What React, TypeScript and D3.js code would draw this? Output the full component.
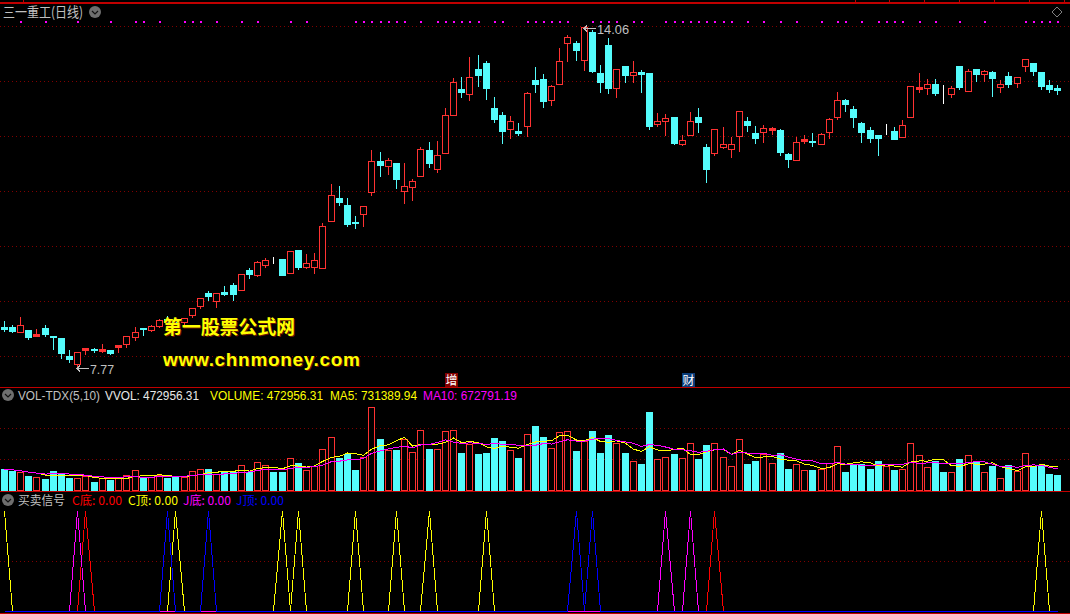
import React from "react";
import * as d3 from "d3";

const WIDTH = 1070;
const HEIGHT = 614;

const opens = [
  8.51,8.51,8.42,8.46,8.35,8.49,8.35,8.30,7.97,7.83,
  8.09,8.11,8.07,8.08,8.13,8.20,8.33,8.48,8.46,8.53,
  8.65,8.62,8.60,8.72,8.89,9.13,8.99,9.15,9.28,9.19,
  9.56,9.47,9.65,9.75,9.76,9.51,9.92,9.61,9.62,9.59,
  10.45,10.88,10.75,10.44,10.58,11.00,11.56,11.48,11.53,11.02,
  11.09,11.28,11.77,11.42,11.72,12.42,12.89,12.79,13.26,13.37,
  12.54,12.41,12.16,12.12,12.21,13.06,13.07,12.68,12.99,13.73,
  13.74,13.43,13.94,13.18,13.70,12.90,13.31,13.15,13.20,13.19,
  12.25,12.31,12.37,11.88,12.04,12.37,11.82,11.72,11.82,11.79,
  12.03,12.30,12.08,12.10,12.14,12.14,11.69,11.59,11.93,11.93,
  11.88,12.09,12.38,12.69,12.52,12.26,12.14,12.04,12.10,12.12,
  12.01,12.38,12.89,12.90,12.98,12.77,12.80,13.31,12.86,13.26,
  13.17,13.20,12.93,13.13,13.01,13.32,13.37,13.20,12.96,12.90,
];
const closes = [
  8.47,8.44,8.54,8.32,8.38,8.38,8.33,8.03,7.92,8.04,
  8.12,8.08,8.10,8.03,8.17,8.35,8.41,8.47,8.52,8.64,
  8.59,8.54,8.68,8.85,9.05,9.07,9.13,9.11,9.11,9.48,
  9.48,9.70,9.75,9.75,9.46,9.90,9.61,9.68,9.75,10.36,
  10.93,10.81,10.40,10.42,10.74,11.56,11.49,11.58,11.23,11.10,
  11.19,11.79,11.53,11.67,12.41,13.02,12.84,13.12,13.15,12.91,
  12.34,12.12,12.31,12.08,12.81,12.98,12.67,12.94,13.40,13.84,
  13.61,14.04,13.22,13.02,12.91,13.25,13.15,13.20,13.17,12.21,
  12.31,12.35,11.90,11.95,12.31,12.28,11.42,12.15,11.87,11.87,
  12.48,12.23,11.99,12.17,12.17,11.73,11.60,11.91,11.97,11.92,
  12.06,12.33,12.68,12.61,12.37,12.10,11.99,11.99,12.10,11.97,
  12.22,12.94,12.92,12.98,12.82,12.77,12.90,12.93,13.22,13.17,
  13.22,13.09,12.98,12.98,13.11,13.44,13.22,12.95,12.89,12.88,
];
const highs = [
  8.64,8.56,8.71,8.46,8.49,8.56,8.35,8.30,8.10,8.04,
  8.12,8.14,8.21,8.10,8.17,8.36,8.53,8.51,8.56,8.67,
  8.73,8.64,8.70,8.87,9.05,9.18,9.13,9.28,9.34,9.48,
  9.62,9.75,9.80,9.81,9.76,9.92,9.92,9.87,9.89,10.44,
  11.16,11.12,10.90,10.57,10.74,11.79,11.75,11.64,11.53,11.55,
  11.25,11.84,11.93,11.95,12.56,13.11,13.13,13.50,13.54,13.42,
  12.76,12.49,12.41,12.28,12.85,13.31,13.19,12.98,13.66,13.90,
  13.79,14.06,13.99,13.35,13.85,13.26,13.31,13.42,13.26,13.19,
  12.47,12.45,12.37,12.06,12.49,12.56,11.90,12.15,12.21,12.02,
  12.48,12.39,12.23,12.25,12.21,12.17,11.73,12.02,12.06,12.10,
  12.10,12.37,12.85,12.73,12.60,12.30,12.21,12.06,12.26,12.21,
  12.34,12.94,13.20,13.09,13.09,12.98,12.96,13.33,13.28,13.28,
  13.26,13.24,13.07,13.22,13.13,13.44,13.39,13.20,13.07,12.98,
];
const lows = [
  8.44,8.41,8.41,8.29,8.34,8.34,8.10,7.94,7.86,7.77,
  8.01,8.05,8.05,8.01,8.05,8.14,8.27,8.36,8.43,8.51,
  8.54,8.53,8.57,8.69,8.86,9.00,8.87,9.10,9.00,9.19,
  9.41,9.45,9.62,9.68,9.46,9.50,9.58,9.60,9.50,9.59,
  10.45,10.75,10.37,10.33,10.37,10.94,11.29,11.32,11.07,10.79,
  10.85,11.28,11.45,11.36,11.72,12.41,12.74,12.69,12.95,12.71,
  12.28,11.90,11.99,12.04,12.02,12.84,12.56,12.60,12.99,13.41,
  13.42,13.24,13.20,12.84,12.82,12.74,13.02,13.02,12.84,12.15,
  12.21,12.04,11.88,11.86,12.04,12.10,11.18,11.67,11.80,11.64,
  11.75,12.12,11.90,11.91,12.06,11.67,11.45,11.58,11.90,11.84,
  11.88,11.99,12.34,12.49,12.19,11.91,11.91,11.67,12.06,11.97,
  12.01,12.38,12.84,12.80,12.78,12.63,12.74,12.89,12.86,13.04,
  13.04,12.76,12.84,12.93,12.93,13.22,13.15,12.89,12.84,12.80,
];
// volume, in units of ten thousand
const volumes = [
  66.2,60.9,55.7,44.1,39.9,34.7,59.9,52.5,38.9,36.8,
  44.1,25.2,36.8,31.5,41.0,46.2,62.0,42.0,39.9,48.3,
  38.9,42.0,39.9,58.8,65.1,66.2,49.4,57.8,57.8,77.7,
  55.7,87.2,77.7,57.8,57.8,99.8,85.1,62.0,74.6,128.1,
  165.9,100.8,114.5,63.0,102.9,260.4,160.7,125.0,126.0,160.7,
  118.7,188.0,129.2,128.1,185.9,188.0,116.6,144.9,113.4,116.6,
  163.8,154.4,125.0,100.8,175.4,201.6,167.0,131.3,181.7,184.8,
  122.9,154.4,185.9,116.6,173.3,147.0,116.6,90.3,81.9,245.7,
  96.6,102.9,113.4,99.8,147.0,97.7,141.8,147.0,102.9,74.6,
  159.6,81.9,91.4,113.4,84.0,115.5,66.2,80.9,62.0,63.0,
  65.1,84.0,137.6,56.7,83.0,83.0,66.2,91.4,74.6,63.0,
  65.1,147.0,109.2,71.4,91.4,56.7,55.7,97.7,109.2,90.3,
  55.7,75.6,36.8,78.8,58.8,115.5,74.6,77.7,50.4,47.3,
];
const dojiUpVolume = [108];
const topMarkerBars = [
  2,5,9,13,16,17,19,22,23,24,26,29,31,35,37,43,44,45,46,47,48,49,51,53,54,55,56,57,58,60,61,
  64,65,66,67,68,69,72,73,74,75,77,78,81,82,83,84,85,86,87,88,89,91,93,95,97,100,102,103,105,
  107,108,109,110,112,114,117,120,125,126,127,128,129,
];
const cBottomPeaks = [10, 87];
const cTopPeaks = [0, 21, 34, 36, 43, 48, 52, 59, 127];
const jBottomPeaks = [9, 81, 84];
const jTopPeaks = [20, 25, 70, 72];
const priceGrid = [14.05, 13.04, 12.02, 11.01, 10.0, 8.99, 7.97];
const volumeGrid = [97.7, 195.5];
const signalGrid = [50];
const topTicks = [23, 855, 889, 924, 959, 994, 1029, 1064];

const RED = "#ff3232";
const CYAN = "#54fcfc";
const FRAME = "#c00000";
const GRID = "#800000";
const GREY = "#c0c0c0";
const LATIN = "'Liberation Sans', Arial, sans-serif";
const CJK = "'Noto Sans CJK SC', sans-serif";

const n = opens.length;
const xPos = d3.scaleLinear().domain([0, n - 1]).range([4.33, 4.33 + 8.167 * (n - 1)]);
const px = (i: number) => Math.floor(xPos(i)) + 0.5;
const yPrice = d3.scaleLinear().domain([14.06, 7.77]).range([25.5, 367]);
const yVol = d3.scaleLinear().domain([0, 100]).range([490, 458.3]);
const ySig = d3.scaleLinear().domain([0, 100]).range([611, 511]);
const snap = (v: number) => Math.round(v) + 0.5;

const rollingMean = (values: number[], window: number) =>
  values.map((_, i) => d3.mean(values.slice(Math.max(0, i - window + 1), i + 1)) as number);
const ma5 = rollingMean(volumes, 5);
const ma10 = rollingMean(volumes, 10);
const volLine = d3.line<number>().x((_, i) => px(i)).y((d) => yVol(d));
const sigLine = d3.line<number>().x((_, i) => px(i)).y((d) => ySig(d));
const signalSeries = (peaks: number[]) => d3.range(n).map((i) => (peaks.includes(i) ? 100 : 0));

const isUp = (i: number) => closes[i] > opens[i];
const isDoji = (i: number) => closes[i] === opens[i];
const volUp = (i: number) => isUp(i) || dojiUpVolume.includes(i);

function Candle({ i }: { i: number }) {
  const x = px(i);
  const color = isDoji(i) ? "#ffffff" : isUp(i) ? RED : CYAN;
  const top = snap(yPrice(Math.max(opens[i], closes[i])));
  const bot = snap(yPrice(Math.min(opens[i], closes[i])));
  const hi = snap(yPrice(highs[i]));
  const lo = snap(yPrice(lows[i]));
  const thin = bot - top <= 2;
  return (
    <g shapeRendering="crispEdges">
      <line x1={x} x2={x} y1={hi} y2={lo + 0.5} stroke={color} />
      <rect
        x={x - 3}
        y={top}
        width={6}
        height={Math.max(0, bot - top)}
        fill={thin || !isUp(i) ? color : "#000"}
        stroke={color}
      />
    </g>
  );
}

function Icon({ cx, cy }: { cx: number; cy: number }) {
  return (
    <g>
      <circle cx={cx} cy={cy} r={6} fill="#6e6e6e" />
      <path d={`M${cx - 3} ${cy - 1}L${cx} ${cy + 2}L${cx + 3} ${cy - 1}`} fill="none" stroke="#111" strokeWidth={1.2} />
    </g>
  );
}

function Label(props: { x: number; y: number; width?: number; color: string; text: string; cjk?: boolean; size?: number }) {
  return (
    <text
      x={props.x}
      y={props.y}
      fill={props.color}
      fontFamily={props.cjk ? CJK : LATIN}
      fontSize={props.size ?? 12}
      textLength={props.width}
      lengthAdjust="spacingAndGlyphs"
    >
      {props.text}
    </text>
  );
}

function Arrow({ x1, x2, y }: { x1: number; x2: number; y: number }) {
  return (
    <path
      d={`M${x2} ${y}H${x1}M${x1 + 3} ${y - 3}L${x1} ${y}L${x1 + 3} ${y + 3}`}
      fill="none"
      stroke={GREY}
      shapeRendering="crispEdges"
    />
  );
}

export default function App() {
  return (
    <svg
      width={WIDTH}
      height={HEIGHT}
      viewBox={`0 0 ${WIDTH} ${HEIGHT}`}
      style={{ position: "fixed", left: 0, top: 0, background: "#000", display: "block" }}
    >
      <rect width={WIDTH} height={HEIGHT} fill="#000" />

      <g stroke={GRID} strokeDasharray="1 3">
        {priceGrid.map((p) => (
          <line key={p} x1={0} x2={WIDTH} y1={snap(yPrice(p))} y2={snap(yPrice(p))} />
        ))}
        {volumeGrid.map((v) => (
          <line key={v} x1={0} x2={WIDTH} y1={snap(yVol(v))} y2={snap(yVol(v))} />
        ))}
        {signalGrid.map((v) => (
          <line key={v} x1={0} x2={WIDTH} y1={snap(ySig(v))} y2={snap(ySig(v))} />
        ))}
      </g>

      <g stroke={FRAME} shapeRendering="crispEdges">
        <line x1={0} x2={WIDTH} y1={2.5} y2={2.5} strokeWidth={2} />
        <line x1={0} x2={WIDTH} y1={387.5} y2={387.5} />
        <line x1={0} x2={WIDTH} y1={491.5} y2={491.5} />
        <line x1={0} x2={WIDTH} y1={613.5} y2={613.5} />
        {topTicks.map((t) => (
          <line key={t} x1={t + 0.5} x2={t + 0.5} y1={0} y2={2} />
        ))}
      </g>

      {topMarkerBars.map((i) => (
        <rect key={i} x={px(i) - 1} y={21} width={2} height={2} fill="#ff00ff" shapeRendering="crispEdges" />
      ))}

      {d3.range(n).map((i) => (
        <Candle key={i} i={i} />
      ))}

      {d3.range(n).map((i) => {
        const x = px(i);
        const top = snap(yVol(volumes[i]));
        return (
          <rect
            key={i}
            x={x - 3}
            y={top}
            width={6}
            height={490.5 - top}
            fill={volUp(i) ? "#000" : CYAN}
            stroke={volUp(i) ? RED : CYAN}
            shapeRendering="crispEdges"
          />
        );
      })}
      <path d={volLine(ma5) ?? ""} fill="none" stroke="#ffff00" shapeRendering="crispEdges" />
      <path d={volLine(ma10) ?? ""} fill="none" stroke="#ff00ff" shapeRendering="crispEdges" />

      {[
        { peaks: cBottomPeaks, color: "#ff0000" },
        { peaks: cTopPeaks, color: "#ffff00" },
        { peaks: jBottomPeaks, color: "#ff00ff" },
        { peaks: jTopPeaks, color: "#0000ff" },
      ].map((s) => (
        <path
          key={s.color}
          d={sigLine(signalSeries(s.peaks)) ?? ""}
          fill="none"
          stroke={s.color}
          shapeRendering="crispEdges"
        />
      ))}

      <Label x={3} y={17} width={80} color={GREY} text="三一重工(日线)" cjk size={14} />
      <Icon cx={95} cy={12} />
      <path d="M1057 7L1062 12L1057 17L1052 12Z" fill="none" stroke="#808080" />

      <Arrow x1={77} x2={89} y={368.5} />
      <Label x={90} y={374} width={24} color={GREY} text="7.77" />
      <Arrow x1={584} x2={596} y={28.5} />
      <Label x={597} y={34} width={32} color={GREY} text="14.06" />

      <rect x={445} y={373} width={13} height={14} fill="#800000" />
      <Label x={445.5} y={384.5} color="#ffffff" text="增" cjk size={12} />
      <rect x={682} y={373} width={13} height={14} fill="#0a3c78" />
      <Label x={682.5} y={384.5} color="#ffffff" text="财" cjk size={12} />

      <Icon cx={8} cy={395} />
      <Label x={18} y={400} width={82} color={GREY} text="VOL-TDX(5,10)" />
      <Label x={105} y={400} width={94} color="#e8e8e8" text="VVOL: 472956.31" />
      <Label x={210} y={400} width={113} color="#ffff00" text="VOLUME: 472956.31" />
      <Label x={330} y={400} width={87} color="#ffff00" text="MA5: 731389.94" />
      <Label x={423} y={400} width={94} color="#ff00ff" text="MA10: 672791.19" />

      <Icon cx={8} cy={500} />
      <Label x={18} y={505} width={47} color={GREY} text="买卖信号" cjk />
      <Label x={72} y={505} width={50} color="#ff0000" text="C底: 0.00" cjk />
      <Label x={128} y={505} width={50} color="#ffff00" text="C顶: 0.00" cjk />
      <Label x={183} y={505} width={48} color="#ff00ff" text="J底: 0.00" cjk />
      <Label x={236} y={505} width={48} color="#0000ff" text="J顶: 0.00" cjk />

      <g fontWeight="bold">
        <text x={164} y={335} fontSize={19} fontFamily={CJK} fill="#6a1500" textLength={132}>第一股票公式网</text>
        <text x={163} y={334} fontSize={19} fontFamily={CJK} fill="#ffff00" textLength={132}>第一股票公式网</text>
        <text x={164} y={367} fontSize={19} fontFamily={LATIN} fill="#6a1500" textLength={197}>www.chnmoney.com</text>
        <text x={163} y={366} fontSize={19} fontFamily={LATIN} fill="#ffff00" textLength={197}>www.chnmoney.com</text>
      </g>
    </svg>
  );
}
